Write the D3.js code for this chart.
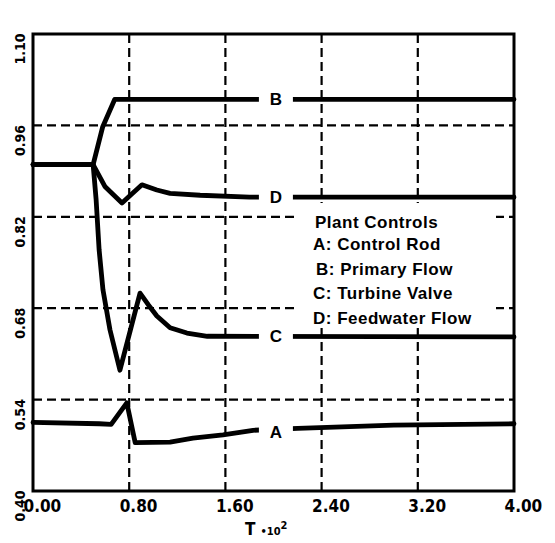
<!DOCTYPE html>
<html lang="en">
<head>
    <meta charset="UTF-8">
    <title>Plant Controls</title>
    <script src="https://cdn.jsdelivr.net/npm/d3@7"></script>
    <style>
        body {
            margin: 0;
            background: #fff;
        }

        svg {
            display: block;
        }

        .tick-label {
            font-family: "DejaVu Sans Condensed", "DejaVu Sans", sans-serif;
            font-weight: bold;
            fill: #000;
        }

        .legend text {
            font-family: "Liberation Sans", Arial, sans-serif;
            font-size: 17px;
            font-weight: bold;
            letter-spacing: 0.5px;
            fill: #000;
        }

        .curve {
            fill: none;
            stroke: #000;
            stroke-width: 4.8;
            stroke-linejoin: round;
            stroke-linecap: round;
        }

        .grid {
            stroke: #000;
            stroke-width: 2.2;
            stroke-dasharray: 9, 5;
        }
    </style>
</head>
<body>
<div id="graphArea"></div>
<script>
// ticks
let xTicks = [0, 0.8, 1.6, 2.4, 3.2, 4.0]
let yTicks = [0.40, 0.54, 0.68, 0.82, 0.96, 1.10]

// series (time in units of 10^2)
let tA = [0, 0.55, 0.65, 0.78, 0.85, 1.14, 1.33, 1.58, 1.83, 2.2, 3.0, 4.0]
let vA = [0.505, 0.503, 0.502, 0.535, 0.474, 0.475, 0.481, 0.486, 0.493, 0.496, 0.501, 0.503]

let tB = [0, 0.50, 0.58, 0.68, 4.0]
let vB = [0.90, 0.90, 0.958, 1.0, 1.0]

let tC = [0, 0.50, 0.525, 0.55, 0.582, 0.64, 0.723, 0.89, 0.96, 1.03, 1.14, 1.28, 1.45, 4.0]
let vC = [0.90, 0.90, 0.846, 0.769, 0.708, 0.647, 0.585, 0.703, 0.685, 0.668, 0.650, 0.642, 0.637, 0.636]

let tD = [0, 0.50, 0.60, 0.74, 0.81, 0.906, 1.03, 1.14, 1.39, 1.80, 4.0]
let vD = [0.90, 0.90, 0.866, 0.841, 0.853, 0.869, 0.861, 0.856, 0.853, 0.850, 0.850]

let legendTitle = 'Plant Controls'
let legendItems = ['A: Control Rod', 'B: Primary Flow', 'C: Turbine Valve', 'D: Feedwater Flow']

let series = [
    {name: 'A', t: tA, v: vA},
    {name: 'B', t: tB, v: vB},
    {name: 'C', t: tC, v: vC},
    {name: 'D', t: tD, v: vD},
]
let labelAt = 2.02

let plotLeft = 33, plotRight = 514, plotTop = 34, plotBottom = 491

let svg = d3.select('#graphArea').append('svg')
    .attr('width', 555)
    .attr('height', 543)

let x = d3.scaleLinear().domain([0, 4]).range([plotLeft, plotRight])
let y = d3.scaleLinear().domain([0.40, 1.10]).range([plotBottom, plotTop])

// 网格
svg.append('g').selectAll('line')
    .data(xTicks.slice(1, -1))
    .enter().append('line')
    .attr('class', 'grid')
    .attr('x1', d => x(d)).attr('x2', d => x(d))
    .attr('y1', plotTop).attr('y2', plotBottom)

svg.append('g').selectAll('line')
    .data(yTicks.slice(1, -1))
    .enter().append('line')
    .attr('class', 'grid')
    .attr('x1', plotLeft).attr('x2', plotRight)
    .attr('y1', d => y(d)).attr('y2', d => y(d))

// 图例 (white box hides grid behind it)
let legend = svg.append('g').attr('class', 'legend')
legend.append('rect')
    .attr('x', 296).attr('y', 203)
    .attr('width', 200).attr('height', 122)
    .attr('fill', '#fff')
legend.append('text')
    .attr('x', 315).attr('y', 228)
    .text(legendTitle)
legend.selectAll('text.item')
    .data(legendItems)
    .enter().append('text')
    .attr('class', 'item')
    .attr('x', (d, i) => i == 1 ? 316 : 313)
    .attr('y', (d, i) => 250 + i * 24.5)
    .text(d => d)

// 曲线
let line = d3.line()
    .x(d => x(d[0]))
    .y(d => y(d[1]))

svg.append('g').selectAll('path')
    .data(series)
    .enter().append('path')
    .attr('class', 'curve')
    .attr('d', s => line(d3.zip(s.t, s.v)))

// curve letters sitting on the lines
let labels = svg.append('g').selectAll('g')
    .data(series)
    .enter().append('g')
    .attr('transform', s => {
        let i = d3.bisectLeft(s.t, labelAt)
        let k = (labelAt - s.t[i - 1]) / (s.t[i] - s.t[i - 1])
        let v = s.v[i - 1] + k * (s.v[i] - s.v[i - 1])
        return 'translate(' + x(labelAt) + ',' + y(v) + ')'
    })
labels.append('rect')
    .attr('x', -17).attr('y', -9)
    .attr('width', 34).attr('height', 18)
    .attr('fill', '#fff')
labels.append('text')
    .attr('text-anchor', 'middle')
    .attr('dy', s => s.name == 'A' ? 9 : 6)
    .style('font-family', '"Liberation Sans", Arial, sans-serif')
    .style('font-weight', 'bold')
    .style('font-size', '17px')
    .text(s => s.name)

// 坐标轴
let xAxis = d3.axisBottom(x)
    .tickValues(xTicks)
    .tickSize(0)
    .tickFormat(d3.format('.2f'))
let gx = svg.append('g')
    .attr('transform', 'translate(0,' + plotBottom + ')')
    .call(xAxis)
gx.select('.domain').remove()
gx.selectAll('text')
    .attr('class', 'tick-label')
    .attr('text-anchor', 'start')
    .attr('x', -10)
    .attr('y', 21)
    .attr('dy', 0)
    .style('font-size', '17px')

let yAxis = d3.axisLeft(y)
    .tickValues(yTicks)
    .tickSize(0)
    .tickFormat(d3.format('.2f'))
let gy = svg.append('g')
    .attr('transform', 'translate(' + plotLeft + ',0)')
    .call(yAxis)
gy.select('.domain').remove()
gy.selectAll('text')
    .attr('class', 'tick-label')
    .attr('text-anchor', 'end')
    .attr('x', 0).attr('y', 0).attr('dy', 0)
    .attr('transform', 'translate(-8,-1) rotate(-90)')
    .style('font-size', '14px')

// frame
svg.append('rect')
    .attr('x', plotLeft).attr('y', plotTop)
    .attr('width', plotRight - plotLeft).attr('height', plotBottom - plotTop)
    .attr('fill', 'none')
    .attr('stroke', '#000')
    .attr('stroke-width', 3)

// x title
let title = svg.append('text')
    .attr('x', 245).attr('y', 535)
    .style('font-family', '"DejaVu Sans Condensed", sans-serif')
    .style('font-weight', 'bold')
title.append('tspan').style('font-size', '17px').text('T')
title.append('tspan').attr('dx', 5).style('font-size', '11px').text('•10')
title.append('tspan').attr('dy', -6).style('font-size', '11px').text('2')
</script>
</body>
</html>
